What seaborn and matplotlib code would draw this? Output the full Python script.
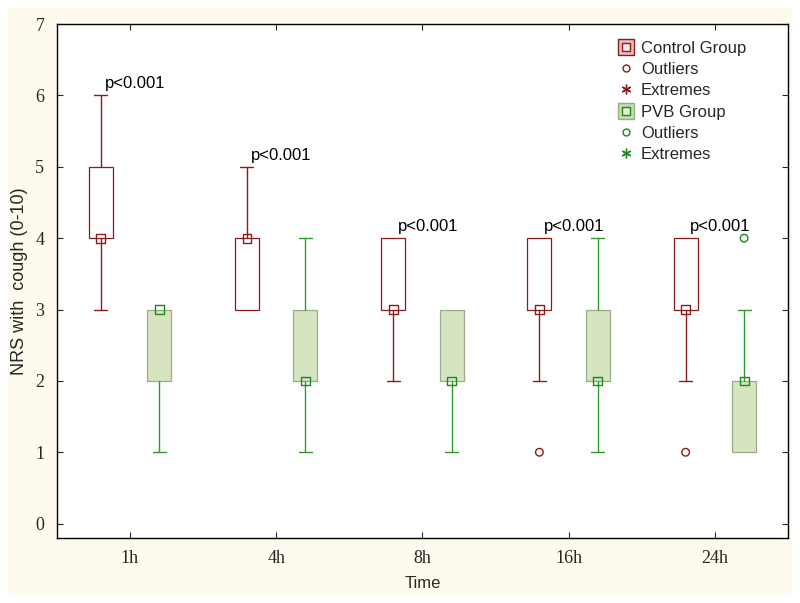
import seaborn as sns
import matplotlib.pyplot as plt
import pandas as pd
from matplotlib.lines import Line2D
from matplotlib.patches import Rectangle
from matplotlib.legend_handler import HandlerTuple

# estilo base do seaborn, depois ajustamos a mão
sns.set_style('ticks')
plt.rcParams['font.family'] = ['Liberation Sans', 'DejaVu Sans']

times = ['1h', '4h', '8h', '16h', '24h']

# Control Group: mediana, quartis e extremos não-outliers
ctrl_med = [4, 4, 3, 3, 3]
ctrl_q1 = [4, 3, 3, 3, 3]
ctrl_q3 = [5, 4, 4, 4, 4]
ctrl_lo = [3, 3, 2, 2, 2]
ctrl_hi = [6, 5, 4, 4, 4]
ctrl_out_time = ['16h', '24h']
ctrl_out_val = [1, 1]

# PVB Group
pvb_med = [3, 2, 2, 2, 2]
pvb_q1 = [2, 2, 2, 2, 1]
pvb_q3 = [3, 3, 3, 3, 2]
pvb_lo = [1, 1, 1, 1, 1]
pvb_hi = [3, 4, 3, 4, 3]
pvb_out_time = ['24h']
pvb_out_val = [4]

p_label = 'p<0.001'

RED = '#8b1a1a'
GREEN = '#2f9a2f'
GREEN_DARK = '#1a8a1a'
BOX_FILL = '#d6e4bf'
BOX_EDGE = '#9aac8a'

fig = plt.figure(figsize=(8, 6.03), dpi=100, facecolor='white')
fig.patches.append(Rectangle((0.01, 0.0133), 0.98, 0.973, transform=fig.transFigure,
                             facecolor='#fefbee', edgecolor='none', zorder=-10))
ax = fig.add_axes([0.071, 0.108, 0.914, 0.852])
ax.set_facecolor('white')

xpos = {t: i for i, t in enumerate(times)}
off = 0.2


def draw_group(med, q1, q3, lo, hi, shift, edge, wcolor, fill):
    stats = [dict(med=m, q1=a, q3=b, whislo=l, whishi=h, fliers=[])
             for m, a, b, l, h in zip(med, q1, q3, lo, hi)]
    pos = [i + shift for i in range(len(times))]
    res = ax.bxp(stats, positions=pos, widths=0.165, capwidths=0.09,
                 showfliers=False, patch_artist=True, manage_ticks=False,
                 boxprops=dict(facecolor=fill, edgecolor=edge, linewidth=0.9),
                 whiskerprops=dict(color=wcolor, linewidth=1.0),
                 capprops=dict(color=wcolor, linewidth=1.0),
                 medianprops=dict(visible=False))
    # esconde os caps sem bigode (whisker de comprimento zero)
    for i in range(len(times)):
        if lo[i] == q1[i]:
            res['caps'][2 * i].set_visible(False)
        if hi[i] == q3[i]:
            res['caps'][2 * i + 1].set_visible(False)
    return pos


cpos = draw_group(ctrl_med, ctrl_q1, ctrl_q3, ctrl_lo, ctrl_hi, -off, RED, RED, 'white')
ppos = draw_group(pvb_med, pvb_q1, pvb_q3, pvb_lo, pvb_hi, off, BOX_EDGE, GREEN, BOX_FILL)

med_df = pd.DataFrame({'x': cpos + ppos, 'y': ctrl_med + pvb_med,
                       'g': ['c'] * 5 + ['p'] * 5})
sns.scatterplot(data=med_df[med_df.g == 'c'], x='x', y='y', marker='s', s=40,
                facecolor='none', edgecolor=RED, linewidth=1.0, ax=ax, zorder=5)
sns.scatterplot(data=med_df[med_df.g == 'p'], x='x', y='y', marker='s', s=40,
                facecolor='none', edgecolor=GREEN_DARK, linewidth=1.0, ax=ax, zorder=5)

out_c = pd.DataFrame({'x': [xpos[t] - off for t in ctrl_out_time], 'y': ctrl_out_val})
out_p = pd.DataFrame({'x': [xpos[t] + off for t in pvb_out_time], 'y': pvb_out_val})
sns.scatterplot(data=out_c, x='x', y='y', marker='o', s=30, facecolor='none',
                edgecolor=RED, linewidth=1.0, ax=ax, zorder=5)
sns.scatterplot(data=out_p, x='x', y='y', marker='o', s=30, facecolor='none',
                edgecolor=GREEN_DARK, linewidth=1.0, ax=ax, zorder=5)

for i, t in enumerate(times):
    ax.text(i - off + 0.03, ctrl_hi[i] + 0.06, p_label, fontsize=12,
            ha='left', va='bottom', color='black')

ax.set_xlim(-0.5, 4.5)
ax.set_ylim(-0.2, 7)
ax.set_xticks(range(len(times)))
ax.set_xticklabels(times)
ax.set_yticks(range(0, 8))
ax.tick_params(direction='in', top=True, right=True, length=4, width=0.8,
               labelsize=13, pad=9)
for lab in ax.get_xticklabels() + ax.get_yticklabels():
    lab.set_family('Liberation Serif')
ax.set_xlabel('Time', fontsize=12, labelpad=6)
ax.set_ylabel('NRS with  cough (0-10)', fontsize=13, labelpad=5)
for sp in ax.spines.values():
    sp.set_linewidth(1.0)
    sp.set_color('black')

handles = [
    (Line2D([], [], ls='none', marker='s', ms=11, mfc='#e3c0c0', mec=RED, mew=1.0),
     Line2D([], [], ls='none', marker='s', ms=5.5, mfc='#f6e8e8', mec=RED, mew=1.0)),
    Line2D([], [], ls='none', marker='o', ms=5, mfc='none', mec=RED, mew=1.0),
    Line2D([], [], ls='none', marker=(6, 2, 0), ms=7, mec=RED, mew=1.0),
    (Line2D([], [], ls='none', marker='s', ms=11, mfc='#c9dcae', mec=BOX_EDGE, mew=1.0),
     Line2D([], [], ls='none', marker='s', ms=5.5, mfc='#e4efd6', mec=GREEN_DARK, mew=1.0)),
    Line2D([], [], ls='none', marker='o', ms=5, mfc='none', mec=GREEN_DARK, mew=1.0),
    Line2D([], [], ls='none', marker=(6, 2, 0), ms=7, mec=GREEN_DARK, mew=1.0),
]
labels = ['Control Group', 'Outliers', 'Extremes', 'PVB Group', 'Outliers', 'Extremes']
ax.legend(handles, labels, loc='upper left', bbox_to_anchor=(0.767, 0.968),
          frameon=False, fontsize=12, handlelength=1.0, handletextpad=0.4,
          labelspacing=0.38, borderpad=0, borderaxespad=0,
          handler_map={tuple: HandlerTuple(ndivide=1)})

fig.savefig('out.png', dpi=100, facecolor=fig.get_facecolor())
